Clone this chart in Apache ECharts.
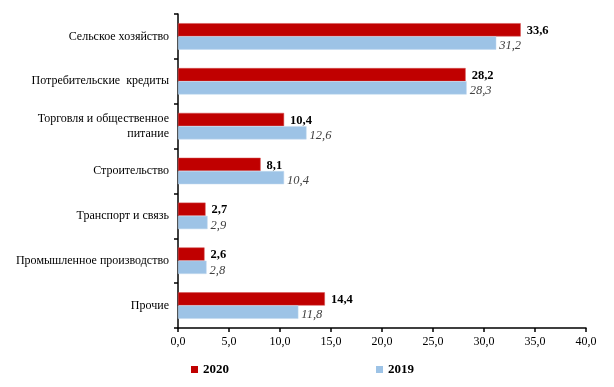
<!DOCTYPE html>
<html>
<head>
<meta charset="utf-8">
<script src="https://cdn.jsdelivr.net/npm/echarts@6/dist/echarts.min.js"></script>
<style>html,body{margin:0;padding:0;background:#fff;}#c{width:614px;height:387px;}</style>
</head>
<body>
<div id="c"></div>
<script>
const categories = ['Сельское хозяйство', 'Потребительские  кредиты', 'Торговля и общественное\nпитание', 'Строительство', 'Транспорт и связь', 'Промышленное производство', 'Прочие'];
const values2020 = [33.6, 28.2, 10.4, 8.1, 2.7, 2.6, 14.4];
const values2019 = [31.2, 28.3, 12.6, 10.4, 2.9, 2.8, 11.8];
const xTicks = [0, 5, 10, 15, 20, 25, 30, 35, 40];

const fmt = v => Number(v).toFixed(1).replace('.', ',');
const serif = '"Liberation Serif", "Times New Roman", serif';

const chart = echarts.init(document.getElementById('c'));
chart.setOption({
  animation: false,
  backgroundColor: '#fff',
  grid: { left: 178, right: 28, top: 14, bottom: 59 },
  legend: [
    { data: ['2020'], left: 186, top: 358, icon: 'rect', itemWidth: 7, itemHeight: 7, itemGap: 4,
      itemStyle: { borderWidth: 0 },
      textStyle: { fontFamily: serif, fontWeight: 'bold', fontSize: 13, color: '#000' } },
    { data: ['2019'], left: 371, top: 358, icon: 'rect', itemWidth: 7, itemHeight: 7, itemGap: 4,
      itemStyle: { borderWidth: 0 },
      textStyle: { fontFamily: serif, fontWeight: 'bold', fontSize: 13, color: '#000' } }
  ],
  xAxis: {
    type: 'value', min: xTicks[0], max: xTicks[xTicks.length - 1], interval: 5,
    splitLine: { show: false },
    axisLine: { show: true, lineStyle: { color: '#000', width: 1.5 } },
    axisTick: { show: true, length: 4, lineStyle: { color: '#000', width: 1.5 } },
    axisLabel: { formatter: fmt, fontFamily: serif, fontSize: 12, color: '#000', margin: 8 }
  },
  yAxis: {
    type: 'category', data: categories, inverse: true,
    axisLine: { show: true, lineStyle: { color: '#000', width: 1.5 } },
    axisTick: { show: true, length: 4, lineStyle: { color: '#000', width: 1.5 } },
    axisLabel: { fontFamily: serif, fontSize: 12, color: '#000', margin: 9, lineHeight: 15, align: 'right' }
  },
  series: [
    { name: '2020', type: 'bar', data: values2020, barGap: '0%', barCategoryGap: '41%',
      itemStyle: { color: '#C00000', borderColor: '#D45050', borderWidth: 0.5 },
      label: { show: true, position: 'right', distance: 6, offset: [0, 1], formatter: p => fmt(p.value),
        fontFamily: serif, fontSize: 12.5, fontWeight: 'bold', color: '#000' } },
    { name: '2019', type: 'bar', data: values2019, barGap: '0%', barCategoryGap: '41%',
      itemStyle: { color: '#9DC3E6', borderColor: '#C0D8EF', borderWidth: 0.5 },
      label: { show: true, position: 'right', distance: 3, offset: [0, 3], formatter: p => fmt(p.value),
        fontFamily: serif, fontSize: 12.5, fontStyle: 'italic', color: '#404040' } }
  ]
});
</script>
</body>
</html>
